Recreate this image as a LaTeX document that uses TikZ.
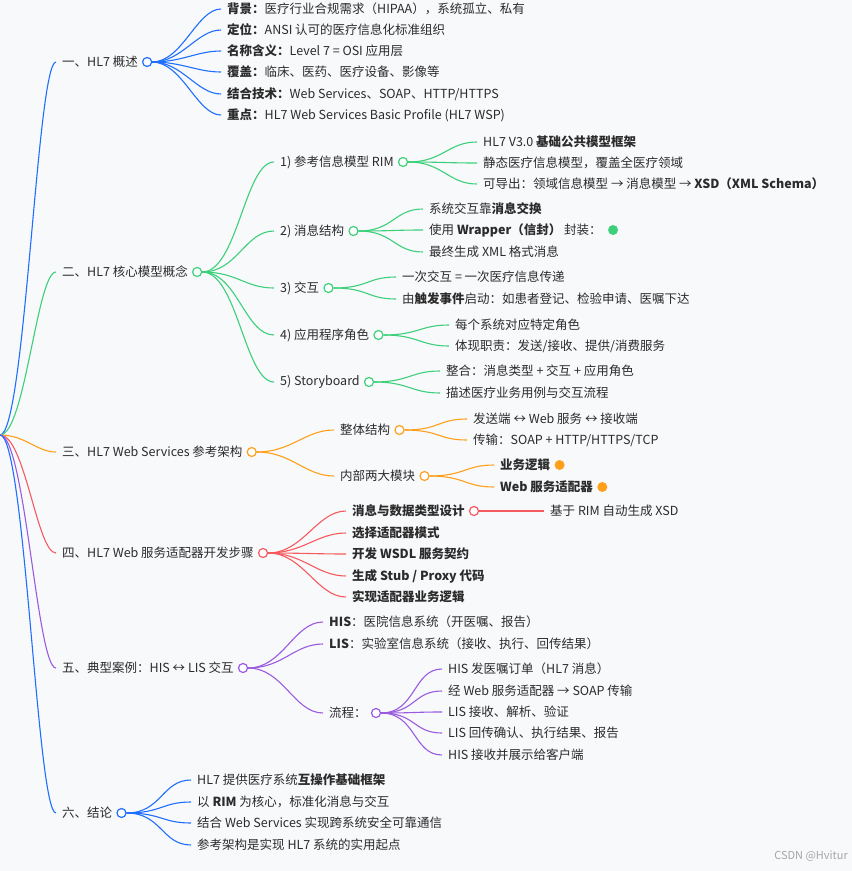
\documentclass[tikz,border=0pt]{standalone}
\usepackage{fontspec}
\setmainfont{Noto Sans CJK SC}
\usetikzlibrary{positioning}

\definecolor{mmblue}{HTML}{1F6FFF}
\definecolor{mmgreen}{HTML}{3DD07A}
\definecolor{mmorange}{HTML}{FF9F1A}
\definecolor{mmred}{HTML}{F65A5E}
\definecolor{mmpurple}{HTML}{9B5BE0}
\definecolor{mmtext}{HTML}{2B2B2B}
\definecolor{mmbg}{HTML}{F8F9FB}

\tikzset{
    txt/.style={anchor=west, inner sep=0pt, text=mmtext, font=\fontsize{12.5}{14}\selectfont},
    knot/.style={circle, draw=#1, fill=white, line width=1.2pt, minimum size=9pt, inner sep=0pt},
    blob/.style={circle, fill=#1, minimum size=10pt, inner sep=0pt},
    edge/.style={draw=#1, line width=1.1pt, shorten >=6pt}
}
% branch from a to b with horizontal tangents
\newcommand\mmlink[4]{\draw[edge=#1] (#2) .. controls +(#4,0) and +(-#4,0) .. (#3);}

\begin{document}
\begin{tikzpicture}[x=1pt,y=-1pt]
        \fill[mmbg] (0,0) rectangle (852,871);
        \useasboundingbox (0,0) rectangle (852,871);
        \coordinate (root) at (0,435);

        % overview
        \node[txt] (ov) at (62,62) {一、HL7 概述};
        \node[knot=mmblue, right=4pt of ov] (ov-o) {};
        \node[txt] (ov1) at (227,9) {\textbf{背景：}医疗行业合规需求（HIPAA），系统孤立、私有};
        \node[txt] (ov2) at (227,30) {\textbf{定位：}ANSI 认可的医疗信息化标准组织};
        \node[txt] (ov3) at (227,51) {\textbf{名称含义：}Level 7 = OSI 应用层};
        \node[txt] (ov4) at (227,72) {\textbf{覆盖：}临床、医药、医疗设备、影像等};
        \node[txt] (ov5) at (227,94) {\textbf{结合技术：}Web Services、SOAP、HTTP/HTTPS};
        \node[txt] (ov6) at (227,115) {\textbf{重点：}HL7 Web Services Basic Profile (HL7 WSP)};
        \mmlink{mmblue}{root}{ov.west}{25}
        \foreach \i in {1,...,6}{\mmlink{mmblue}{ov-o.east}{ov\i.west}{30}}

        % core model
        \node[txt] (cm) at (62,272) {二、HL7 核心模型概念};
        \node[knot=mmgreen, right=4pt of cm] (cm-o) {};
        \node[txt] (rim) at (280,162) {1) 参考信息模型 RIM};
        \node[knot=mmgreen, right=4pt of rim] (rim-o) {};
        \node[txt] (rim1) at (483,142) {HL7 V3.0 \textbf{基础公共模型框架}};
        \node[txt] (rim2) at (483,163) {静态医疗信息模型，覆盖全医疗领域};
        \node[txt] (rim3) at (483,184) {可导出：领域信息模型 → 消息模型 → \textbf{XSD（XML Schema）}};
        \node[txt] (msg) at (280,231) {2) 消息结构};
        \node[knot=mmgreen, right=4pt of msg] (msg-o) {};
        \node[txt] (msg1) at (429,209) {系统交互靠\textbf{消息交换}};
        \node[txt] (msg2) at (429,230) {使用 \textbf{Wrapper（信封）} 封装：};
        \node[blob=mmgreen, right=6pt of msg2] (msg2-d) {};
        \node[txt] (msg3) at (429,252) {最终生成 XML 格式消息};
        \node[txt] (ia) at (280,288) {3) 交互};
        \node[knot=mmgreen, right=4pt of ia] (ia-o) {};
        \node[txt] (ia1) at (402,277) {一次交互 = 一次医疗信息传递};
        \node[txt] (ia2) at (402,299) {由\textbf{触发事件}启动：如患者登记、检验申请、医嘱下达};
        \node[txt] (role) at (280,335) {4) 应用程序角色};
        \node[knot=mmgreen, right=4pt of role] (role-o) {};
        \node[txt] (role1) at (455,325) {每个系统对应特定角色};
        \node[txt] (role2) at (455,346) {体现职责：发送/接收、提供/消费服务};
        \node[txt] (sb) at (280,382) {5) Storyboard};
        \node[knot=mmgreen, right=4pt of sb] (sb-o) {};
        \node[txt] (sb1) at (446,371) {整合：消息类型 + 交互 + 应用角色};
        \node[txt] (sb2) at (446,393) {描述医疗业务用例与交互流程};
        \mmlink{mmgreen}{root}{cm.west}{25}
        \foreach \n in {rim,msg,ia,role,sb}{\mmlink{mmgreen}{cm-o.east}{\n.west}{35}}
        \foreach \i in {1,2,3}{\mmlink{mmgreen}{rim-o.east}{rim\i.west}{35}}
        \foreach \i in {1,2,3}{\mmlink{mmgreen}{msg-o.east}{msg\i.west}{35}}
        \foreach \i in {1,2}{\mmlink{mmgreen}{ia-o.east}{ia\i.west}{35}}
        \foreach \i in {1,2}{\mmlink{mmgreen}{role-o.east}{role\i.west}{35}}
        \foreach \i in {1,2}{\mmlink{mmgreen}{sb-o.east}{sb\i.west}{35}}

        % reference architecture
        \node[txt] (ra) at (62,452) {三、HL7 Web Services 参考架构};
        \node[knot=mmorange, right=4pt of ra] (ra-o) {};
        \node[txt] (whole) at (340,430) {整体结构};
        \node[knot=mmorange, right=4pt of whole] (whole-o) {};
        \node[txt] (whole1) at (473,419) {发送端 ↔ Web 服务 ↔ 接收端};
        \node[txt] (whole2) at (473,440) {传输：SOAP + HTTP/HTTPS/TCP};
        \node[txt] (mods) at (340,476) {内部两大模块};
        \node[knot=mmorange, right=4pt of mods] (mods-o) {};
        \node[txt] (mods1) at (500,465) {\textbf{业务逻辑}};
        \node[blob=mmorange, right=4pt of mods1] (mods1-d) {};
        \node[txt] (mods2) at (500,487) {\textbf{Web 服务适配器}};
        \node[blob=mmorange, right=4pt of mods2] (mods2-d) {};
        \mmlink{mmorange}{root}{ra.west}{25}
        \foreach \n in {whole,mods}{\mmlink{mmorange}{ra-o.east}{\n.west}{35}}
        \foreach \i in {1,2}{\mmlink{mmorange}{whole-o.east}{whole\i.west}{35}}
        \foreach \i in {1,2}{\mmlink{mmorange}{mods-o.east}{mods\i.west}{35}}

        % adapter steps
        \node[txt] (st) at (62,553) {四、HL7 Web 服务适配器开发步骤};
        \node[knot=mmred, right=4pt of st] (st-o) {};
        \node[txt] (st1) at (352,511) {\textbf{消息与数据类型设计}};
        \node[knot=mmred, right=4pt of st1] (st1-o) {};
        \node[txt] (st1a) at (550,511) {基于 RIM 自动生成 XSD};
        \node[txt] (st2) at (352,533) {\textbf{选择适配器模式}};
        \node[txt] (st3) at (352,554) {\textbf{开发 WSDL 服务契约}};
        \node[txt] (st4) at (352,576) {\textbf{生成 Stub / Proxy 代码}};
        \node[txt] (st5) at (352,597) {\textbf{实现适配器业务逻辑}};
        \mmlink{mmred}{root}{st.west}{25}
        \foreach \i in {1,...,5}{\mmlink{mmred}{st-o.east}{st\i.west}{35}}
        \mmlink{mmred}{st1-o.east}{st1a.west}{30}

        % case
        \node[txt] (cs) at (62,668) {五、典型案例：HIS ↔ LIS 交互};
        \node[knot=mmpurple, right=4pt of cs] (cs-o) {};
        \node[txt] (his) at (329,622) {\textbf{HIS}：医院信息系统（开医嘱、报告）};
        \node[txt] (lis) at (329,644) {\textbf{LIS}：实验室信息系统（接收、执行、回传结果）};
        \node[txt] (flow) at (329,713) {流程：};
        \node[knot=mmpurple, right=4pt of flow] (flow-o) {};
        \node[txt] (flow1) at (448,669) {HIS 发医嘱订单（HL7 消息）};
        \node[txt] (flow2) at (448,691) {经 Web 服务适配器 → SOAP 传输};
        \node[txt] (flow3) at (448,712) {LIS 接收、解析、验证};
        \node[txt] (flow4) at (448,733) {LIS 回传确认、执行结果、报告};
        \node[txt] (flow5) at (448,755) {HIS 接收并展示给客户端};
        \mmlink{mmpurple}{root}{cs.west}{25}
        \foreach \n in {his,lis,flow}{\mmlink{mmpurple}{cs-o.east}{\n.west}{35}}
        \foreach \i in {1,...,5}{\mmlink{mmpurple}{flow-o.east}{flow\i.west}{35}}

        % conclusion
        \node[txt] (cc) at (62,813) {六、结论};
        \node[knot=mmblue, right=4pt of cc] (cc-o) {};
        \node[txt] (cc1) at (197,780) {HL7 提供医疗系统\textbf{互操作基础框架}};
        \node[txt] (cc2) at (197,802) {以 \textbf{RIM} 为核心，标准化消息与交互};
        \node[txt] (cc3) at (197,823) {结合 Web Services 实现跨系统安全可靠通信};
        \node[txt] (cc4) at (197,845) {参考架构是实现 HL7 系统的实用起点};
        \mmlink{mmblue}{root}{cc.west}{25}
        \foreach \i in {1,...,4}{\mmlink{mmblue}{cc-o.east}{cc\i.west}{35}}

        \node[anchor=east, inner sep=0pt, text=black!35, font=\fontsize{11}{13}\selectfont] (mark) at (848,856) {CSDN @Hvitur};
    \end{tikzpicture}
\end{document}
